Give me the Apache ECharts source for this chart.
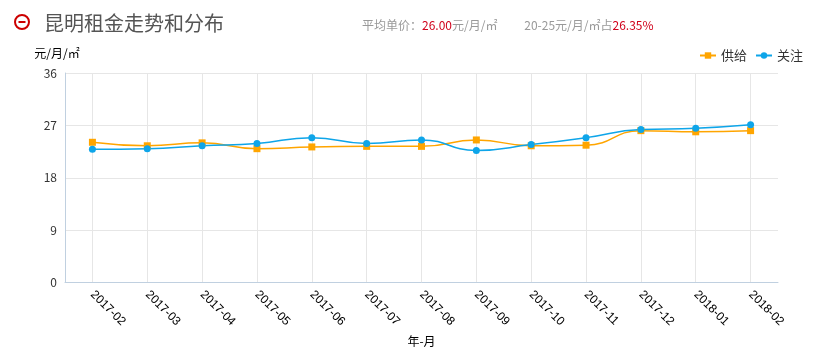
<!DOCTYPE html>
<html><head><meta charset="utf-8">
<script src="https://cdn.jsdelivr.net/npm/echarts@6/dist/echarts.min.js"></script>
<style>html,body{margin:0;padding:0;background:#fff}#c{width:820px;height:352px}</style>
</head><body><div id="c"></div>
<script>
const categories = ['2017-02','2017-03','2017-04','2017-05','2017-06','2017-07','2017-08','2017-09','2017-10','2017-11','2017-12','2018-01','2018-02'];
const supplyValues = [24.1, 23.5, 24.0, 23.0, 23.3, 23.4, 23.4, 24.5, 23.5, 23.6, 26.1, 25.9, 26.1];
const attentionValues = [22.9, 23.0, 23.5, 23.9, 24.9, 23.9, 24.5, 22.7, 23.7, 24.9, 26.3, 26.5, 27.1];
const seriesNames = ['供给', '关注'];
const titleText = '昆明租金走势和分布';
const avgPrice = '26.00';
const rangeShare = '26.35%';

const chart = echarts.init(document.getElementById('c'));
const font = '"Noto Sans CJK SC", "Microsoft YaHei", sans-serif';
chart.setOption({
  animation: false,
  textStyle: { fontFamily: font },
  title: [{
    text: titleText, left: 39, top: 8,
    textStyle: { fontSize: 20, fontWeight: 'normal', color: '#555', fontFamily: font }
  }, {
    text: '{g|平均单价：}{r|' + avgPrice + '}{g|元/月/㎡}          {g|20-25元/月/㎡占}{r|' + rangeShare + '}',
    left: 357, top: 14,
    textStyle: { fontSize: 12, fontWeight: 'normal', fontFamily: font,
      rich: { g: { color: '#999', fontSize: 12, fontFamily: font }, r: { color: '#d0021b', fontSize: 12, fontFamily: font } } }
  }],
  graphic: [{
    type: 'circle', shape: { cx: 22, cy: 22, r: 7 },
    style: { fill: 'none', stroke: '#cc0000', lineWidth: 2 }
  }, {
    type: 'line', shape: { x1: 18.5, y1: 22, x2: 25.5, y2: 22 },
    style: { stroke: '#cc0000', lineWidth: 2 }
  }],
  legend: {
    data: seriesNames,
    right: 12, top: 44, itemWidth: 16, itemHeight: 8, itemGap: 8,
    textStyle: { fontSize: 13, color: '#333', fontFamily: font }
  },
  grid: { left: 65, right: 42, top: 73, bottom: 69 },
  xAxis: {
    type: 'category', data: categories, boundaryGap: true,
    name: '年-月', nameLocation: 'middle', nameGap: 52,
    nameTextStyle: { color: '#000', fontSize: 12, fontFamily: font },
    axisLine: { lineStyle: { color: '#c0d0e0' } },
    axisTick: { alignWithLabel: true, length: 5, lineStyle: { color: '#c0d0e0' } },
    axisLabel: { rotate: -45, color: '#000', fontSize: 12, interval: 0, margin: 10, fontFamily: 'Liberation Sans, Arial, sans-serif' },
    splitLine: { show: true, alignWithLabel: true, lineStyle: { color: '#e6e6e6' } }
  },
  yAxis: {
    type: 'value', min: 0, max: 36, interval: 9,
    name: '元/月/㎡', nameLocation: 'end', nameGap: 14,
    nameTextStyle: { color: '#000', fontSize: 12, align: 'center', padding: [0, 16, 0, 0], fontFamily: font },
    axisLine: { show: true, lineStyle: { color: '#c0d0e0' } },
    axisTick: { show: false },
    axisLabel: { color: '#333', fontSize: 12, margin: 8 },
    splitLine: { lineStyle: { color: '#e6e6e6' } }
  },
  series: [{
    name: seriesNames[0], type: 'line', data: supplyValues, smooth: true,
    symbol: 'rect', symbolSize: 7, showAllSymbol: true,
    itemStyle: { color: '#ffa500' }, lineStyle: { color: '#ffa500', width: 1.5 }
  }, {
    name: seriesNames[1], type: 'line', data: attentionValues, smooth: true,
    symbol: 'circle', symbolSize: 7, showAllSymbol: true,
    itemStyle: { color: '#0ea5e9' }, lineStyle: { color: '#0ea5e9', width: 1.5 }
  }]
});
</script></body></html>
